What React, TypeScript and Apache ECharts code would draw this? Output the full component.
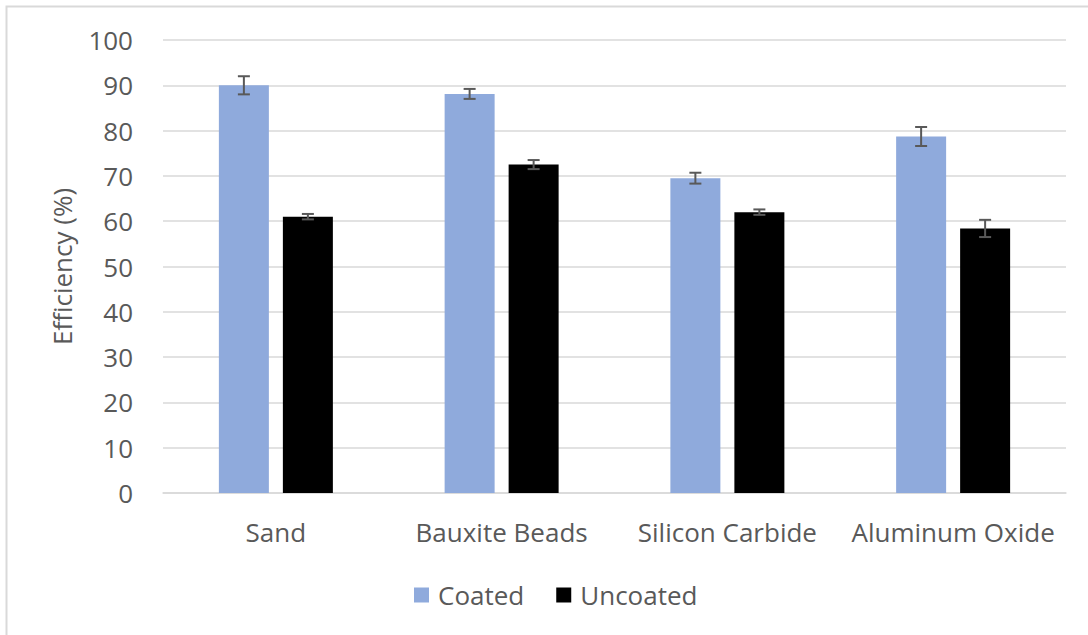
import React, { useEffect, useRef } from "react";
import * as echarts from "echarts";

const categories = ["Sand", "Bauxite Beads", "Silicon Carbide", "Aluminum Oxide"];
const coated = [90.0, 88.1, 69.5, 78.7];
const coatedErr = [2.0, 1.1, 1.2, 2.1];
const uncoated = [61.0, 72.5, 62.0, 58.4];
const uncoatedErr = [0.6, 1.0, 0.6, 1.9];
const yTicks = { min: 0, max: 100, interval: 10 };

const BAR_W = 50;
const BAR_GAP_PX = 14;
const FONT = "'Open Sans', 'Liberation Sans', sans-serif";
const FS = 26;

export default function App() {
  const ref = useRef<HTMLDivElement>(null);
  useEffect(() => {
    const chart = echarts.init(ref.current!, null, { renderer: "svg" });
    const offset = (BAR_W + BAR_GAP_PX) / 2;
    const errData = (vals: number[], errs: number[]) =>
      vals.map((v, i) => [i, v - errs[i], v + errs[i]]);
    const errSeries = (name: string, vals: number[], errs: number[], dir: number) => ({
      type: "custom",
      name: name + " err",
      z: 10,
      silent: true,
      data: errData(vals, errs),
      renderItem: (params: any, api: any) => {
        const lo = api.coord([api.value(0), api.value(1)]);
        const hi = api.coord([api.value(0), api.value(2)]);
        const x = lo[0] + dir * offset;
        const cap = 6;
        const style = { stroke: "#595959", lineWidth: 2 };
        return {
          type: "group",
          children: [
            { type: "line", shape: { x1: x, y1: lo[1], x2: x, y2: hi[1] }, style },
            { type: "line", shape: { x1: x - cap, y1: lo[1], x2: x + cap, y2: lo[1] }, style },
            { type: "line", shape: { x1: x - cap, y1: hi[1], x2: x + cap, y2: hi[1] }, style },
          ],
        };
      },
    });
    chart.setOption({
      animation: false,
      backgroundColor: "#ffffff",
      textStyle: { fontFamily: FONT },
      graphic: [
        {
          type: "rect",
          shape: { x: 6.5, y: 6.5, width: 1200, height: 1200 },
          style: { fill: "none", stroke: "#d9d9d9", lineWidth: 2 },
          silent: true,
        },
      ],
      grid: { left: 163, right: 22, top: 40, bottom: 142, containLabel: false },
      legend: {
        data: ["Coated", "Uncoated"],
        left: 409,
        top: 577,
        icon: "rect",
        itemWidth: 15,
        itemHeight: 15,
        itemGap: 32,
        textStyle: { fontSize: FS, color: "#595959", fontFamily: FONT, padding: [0, 0, 0, 4] },
      },
      xAxis: {
        type: "category",
        data: categories,
        axisLine: { lineStyle: { color: "#d9d9d9", width: 1.5 } },
        axisTick: { show: false },
        axisLabel: {
          fontSize: FS,
          color: "#595959",
          margin: 26,
          fontFamily: FONT,
          interval: 0,
          hideOverlap: false,
        },
      },
      yAxis: {
        type: "value",
        min: yTicks.min,
        max: yTicks.max,
        interval: yTicks.interval,
        name: "Efficiency (%)",
        nameLocation: "middle",
        nameGap: 88,
        nameTextStyle: { fontSize: FS, color: "#595959", fontFamily: FONT },
        axisLine: { show: false },
        axisTick: { show: false },
        axisLabel: { fontSize: FS, color: "#595959", margin: 30, fontFamily: FONT },
        splitLine: { lineStyle: { color: "#d9d9d9", width: 1.5 } },
      },
      series: [
        {
          type: "bar",
          name: "Coated",
          data: coated,
          barWidth: BAR_W,
          barGap: (BAR_GAP_PX / BAR_W) * 100 + "%",
          itemStyle: { color: "#8FAADC" },
        },
        {
          type: "bar",
          name: "Uncoated",
          data: uncoated,
          barWidth: BAR_W,
          itemStyle: { color: "#000000" },
        },
        errSeries("Coated", coated, coatedErr, -1),
        errSeries("Uncoated", uncoated, uncoatedErr, 1),
      ],
    });
    return () => chart.dispose();
  }, []);
  return (
    <div
      ref={ref}
      style={{ position: "fixed", left: 0, top: 0, width: 1088, height: 635 }}
    />
  );
}
